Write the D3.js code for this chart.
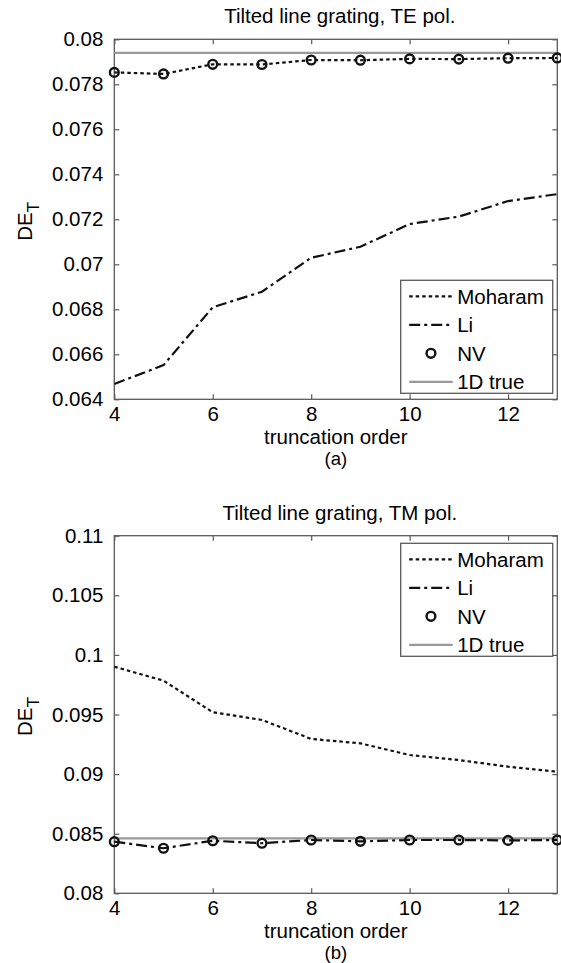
<!DOCTYPE html>
<html>
<head>
<meta charset="utf-8">
<script src="https://cdn.jsdelivr.net/npm/d3@7/dist/d3.min.js"></script>
<style>
  html, body { margin: 0; padding: 0; background: #fff; }
  svg { display: block; font-family: "Liberation Sans", Arial, Helvetica, sans-serif; }
</style>
</head>
<body>
<svg id="fig" width="561" height="963"></svg>
<script>
// Truncation orders shared by both panels
const orders = [4, 5, 6, 7, 8, 9, 10, 11, 12, 13];
const xTicks = [4, 6, 8, 10, 12];
const xTickLabels = ["4", "6", "8", "10", "12"];

// Panel (a): TE polarization
const teMoharam = [0.07853, 0.07846, 0.07889, 0.07888, 0.07908, 0.07907, 0.07913, 0.07912, 0.07916, 0.07917];
const teLi      = [0.06468, 0.06552, 0.06809, 0.06878, 0.07029, 0.07078, 0.07179, 0.07212, 0.07281, 0.07312];
const teNV      = [0.07853, 0.07846, 0.07889, 0.07888, 0.07908, 0.07907, 0.07913, 0.07912, 0.07916, 0.07917];
const teTrue = 0.0794;
const teYTicks = [0.064, 0.066, 0.068, 0.07, 0.072, 0.074, 0.076, 0.078, 0.08];
const teYTickLabels = ["0.064", "0.066", "0.068", "0.07", "0.072", "0.074", "0.076", "0.078", "0.08"];

// Panel (b): TM polarization
const tmMoharam = [0.09901, 0.09784, 0.09519, 0.09454, 0.09295, 0.09258, 0.0916, 0.09118, 0.09062, 0.0902];
const tmLi      = [0.08433, 0.08378, 0.08441, 0.0842, 0.08447, 0.08436, 0.08447, 0.08447, 0.08444, 0.08447];
const tmNV      = [0.08433, 0.08378, 0.08441, 0.0842, 0.08447, 0.08436, 0.08447, 0.08447, 0.08444, 0.08447];
const tmTrue = 0.0846;
const tmYTicks = [0.08, 0.085, 0.09, 0.095, 0.1, 0.105, 0.11];
const tmYTickLabels = ["0.08", "0.085", "0.09", "0.095", "0.1", "0.105", "0.11"];

const legendNames = ["Moharam", "Li", "NV", "1D true"];

const svg = d3.select("#fig");
const FONT = 20.5;
const TAG_FONT = 18.5;
const frameColor = "#5a5a5a";
const trueColor = "#999";

function panel(opt) {
  const { left, right, top, bottom } = opt.box;
  const x = d3.scaleLinear().domain([4, 13]).range([left, right]);
  const y = d3.scaleLinear().domain(opt.yDomain).range([bottom, top]);
  const g = svg.append("g");

  g.append("rect").attr("x", left).attr("y", top)
    .attr("width", right - left).attr("height", bottom - top)
    .attr("fill", "#fff");

  const tickLen = 5;
  const styleAxis = (sel, showLabels) => {
    sel.select(".domain").remove();
    sel.selectAll(".tick line").attr("stroke", frameColor).attr("stroke-width", 1.2);
    sel.selectAll(".tick text").attr("fill", "#000").style("font-size", FONT + "px");
    if (!showLabels) sel.selectAll(".tick text").remove();
  };

  // bottom axis (ticks pointing inward)
  const xLabelMap = new Map(xTicks.map((t, i) => [t, xTickLabels[i]]));
  g.append("g").attr("transform", `translate(0,${bottom})`)
    .call(d3.axisBottom(x).tickValues(xTicks).tickSizeInner(-tickLen).tickSizeOuter(0)
      .tickPadding(7).tickFormat(d => xLabelMap.get(d)))
    .call(s => styleAxis(s, true));
  // top axis, ticks only
  g.append("g").attr("transform", `translate(0,${top})`)
    .call(d3.axisTop(x).tickValues(xTicks).tickSizeInner(-tickLen).tickSizeOuter(0))
    .call(s => styleAxis(s, false));
  // left axis
  const yLabelMap = new Map(opt.yTicks.map((t, i) => [t, opt.yTickLabels[i]]));
  g.append("g").attr("transform", `translate(${left},0)`)
    .call(d3.axisLeft(y).tickValues(opt.yTicks).tickSizeInner(-tickLen).tickSizeOuter(0)
      .tickPadding(tickLen + 6).tickFormat(d => yLabelMap.get(d)))
    .call(s => styleAxis(s, true));
  // right axis, ticks only
  g.append("g").attr("transform", `translate(${right},0)`)
    .call(d3.axisRight(y).tickValues(opt.yTicks).tickSizeInner(-tickLen).tickSizeOuter(0))
    .call(s => styleAxis(s, false));

  g.append("rect").attr("x", left).attr("y", top)
    .attr("width", right - left).attr("height", bottom - top)
    .attr("fill", "none").attr("stroke", frameColor).attr("stroke-width", 1.3);

  // 1D reference value
  g.append("line")
    .attr("x1", x(4)).attr("x2", x(13))
    .attr("y1", y(opt.trueVal)).attr("y2", y(opt.trueVal))
    .attr("stroke", trueColor).attr("stroke-width", 2.2);

  const line = d3.line().x((d, i) => x(orders[i])).y(d => y(d));
  g.append("path").datum(opt.moharam).attr("d", line)
    .attr("fill", "none").attr("stroke", "#111").attr("stroke-width", 2.2)
    .attr("stroke-dasharray", "3.5,3");
  g.append("path").datum(opt.li).attr("d", line)
    .attr("fill", "none").attr("stroke", "#111").attr("stroke-width", 2.2)
    .attr("stroke-dasharray", "11,4,3,4");
  g.selectAll("circle.nv").data(opt.nv).join("circle").attr("class", "nv")
    .attr("cx", (d, i) => x(orders[i])).attr("cy", d => y(d)).attr("r", 4.4)
    .attr("fill", "none").attr("stroke", "#111").attr("stroke-width", 2.4);

  // title and axis labels
  const cx = (left + right) / 2;
  g.append("text").attr("x", cx + 4).attr("y", top - 16)
    .attr("text-anchor", "middle").style("font-size", FONT + "px").text(opt.title);
  g.append("text").attr("x", cx).attr("y", bottom + 44.5)
    .attr("text-anchor", "middle").style("font-size", FONT + "px").text("truncation order");
  g.append("text").attr("x", cx).attr("y", bottom + 65.5)
    .attr("text-anchor", "middle").style("font-size", TAG_FONT + "px").text(opt.tag);

  const ylab = g.append("text")
    .attr("transform", `translate(32,${(top + bottom) / 2 + 2}) rotate(-90)`)
    .attr("text-anchor", "middle").style("font-size", FONT + "px");
  ylab.append("tspan").text("DE");
  ylab.append("tspan").attr("dy", 7).style("font-size", (FONT * 0.85) + "px").text("T");

  // legend
  const lg = opt.legend;
  const lgW = 152, lgH = 113;
  const lx = right - 4.6 - lgW;
  const ly = lg === "bottom" ? bottom - 6 - lgH : top + 7.6;
  const leg = g.append("g");
  leg.append("rect").attr("x", lx).attr("y", ly).attr("width", lgW).attr("height", lgH)
    .attr("fill", "#fff").attr("stroke", frameColor).attr("stroke-width", 1.3);
  legendNames.forEach((name, i) => {
    const ry = ly + 16 + i * 28.5;
    const sx1 = lx + 8.5, sx2 = lx + 52;
    if (i === 0 || i === 1) {
      leg.append("line").attr("x1", sx1).attr("x2", sx2).attr("y1", ry).attr("y2", ry)
        .attr("stroke", "#111").attr("stroke-width", 2.2)
        .attr("stroke-dasharray", i === 0 ? "3.5,3" : "11,4,3,4");
    } else if (i === 2) {
      leg.append("circle").attr("cx", (sx1 + sx2) / 2).attr("cy", ry).attr("r", 4.4)
        .attr("fill", "none").attr("stroke", "#111").attr("stroke-width", 2.4);
    } else {
      leg.append("line").attr("x1", sx1).attr("x2", sx2).attr("y1", ry).attr("y2", ry)
        .attr("stroke", trueColor).attr("stroke-width", 2.2);
    }
    leg.append("text").attr("x", lx + 56.5).attr("y", ry).attr("dy", "0.36em")
      .style("font-size", FONT + "px").text(name);
  });
}

panel({
  box: { left: 114.3, right: 557.3, top: 39.3, bottom: 399.3 },
  yDomain: [0.064, 0.08], yTicks: teYTicks, yTickLabels: teYTickLabels,
  moharam: teMoharam, li: teLi, nv: teNV, trueVal: teTrue,
  title: "Tilted line grating, TE pol.", tag: "(a)", legend: "bottom"
});
panel({
  box: { left: 114.3, right: 557.3, top: 535.7, bottom: 893.3 },
  yDomain: [0.08, 0.11], yTicks: tmYTicks, yTickLabels: tmYTickLabels,
  moharam: tmMoharam, li: tmLi, nv: tmNV, trueVal: tmTrue,
  title: "Tilted line grating, TM pol.", tag: "(b)", legend: "top"
});
</script>
</body>
</html>
